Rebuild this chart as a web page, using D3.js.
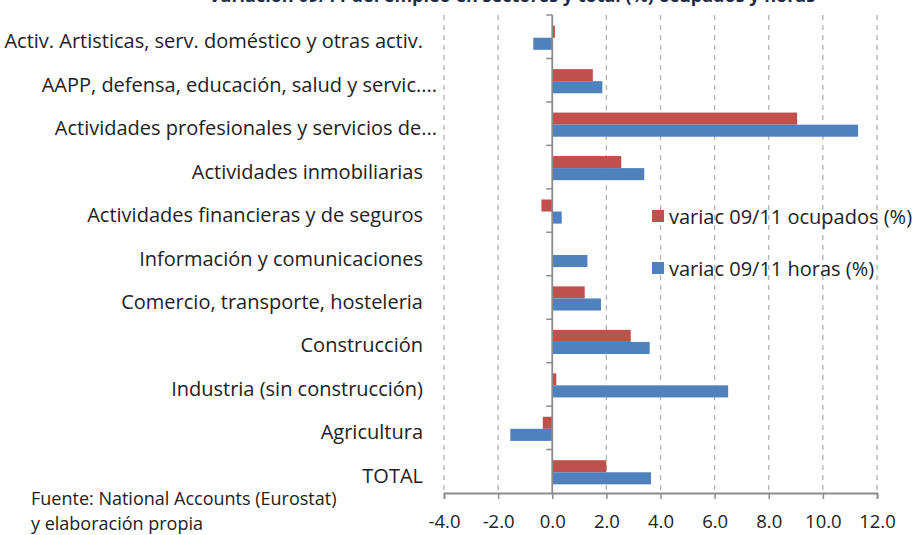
<!DOCTYPE html>
<html>
<head>
<meta charset="utf-8">
<script src="https://cdn.jsdelivr.net/npm/d3@7"></script>
<style>
  body { margin: 0; background: #fff; }
  svg { display: block; font-family: "Open Sans", sans-serif; }
</style>
</head>
<body>
<div id="chart"></div>
<script>
// categorias de arriba hacia abajo
const sectores = [
  "Activ. Artisticas, serv. doméstico y otras activ.",
  "AAPP, defensa, educación, salud y servic....",
  "Actividades profesionales y servicios de...",
  "Actividades inmobiliarias",
  "Actividades financieras y de seguros",
  "Información y comunicaciones",
  "Comercio, transporte, hosteleria",
  "Construcción",
  "Industria (sin construcción)",
  "Agricultura",
  "TOTAL"
];

// variacion 09/11 de ocupados (%)
const ocupados = [0.1, 1.5, 9.05, 2.55, -0.4, 0, 1.2, 2.9, 0.15, -0.35, 2.0];
// variacion 09/11 de horas (%)
const horas = [-0.7, 1.85, 11.3, 3.4, 0.35, 1.3, 1.8, 3.6, 6.5, -1.55, 3.65];

const series = ["variac 09/11 ocupados (%)", "variac 09/11 horas (%)"];
const colores = ["#C0504D", "#4F81BD"];
const ticksX = [-4, -2, 0, 2, 4, 6, 8, 10, 12];

const width = 914, height = 535;
const plot = { left: 444, right: 877, top: 15, bottom: 493 };

const svg = d3.select("#chart").append("svg")
  .attr("width", width)
  .attr("height", height);

const x = d3.scaleLinear().domain([-4, 12]).range([plot.left, plot.right]);
const y = d3.scaleBand().domain(sectores).range([plot.top, plot.bottom]);
const ySub = d3.scaleBand().domain([0, 1]).range([1, y.bandwidth() + 1]).paddingOuter(0.8);

// titulo (cortado arriba como en el original)
svg.append("text")
  .attr("x", 512)
  .attr("y", 2)
  .attr("text-anchor", "middle")
  .attr("font-weight", "bold")
  .attr("font-size", 18)
  .attr("fill", "#1f2a44")
  .text("Variación 09/11 del empleo en sectores y total (%) ocupados y horas");

// lineas de guia discontinuas
svg.append("g")
  .selectAll("line")
  .data(ticksX.filter(d => d !== 0))
  .join("line")
  .attr("x1", d => x(d)).attr("x2", d => x(d))
  .attr("y1", plot.top).attr("y2", plot.bottom)
  .attr("stroke", "#b3b3b3")
  .attr("stroke-width", 1.3)
  .attr("stroke-dasharray", "5,5");

// barras
const filas = sectores.map((s, i) => ({ sector: s, valores: [ocupados[i], horas[i]] }));

const grupos = svg.append("g")
  .selectAll("g")
  .data(filas)
  .join("g")
  .attr("transform", d => "translate(0," + y(d.sector) + ")");

grupos.selectAll("rect")
  .data(d => d.valores.map((v, k) => ({ v, k })))
  .join("rect")
  .attr("x", d => x(Math.min(0, d.v)))
  .attr("width", d => Math.abs(x(d.v) - x(0)))
  .attr("y", d => ySub(d.k))
  .attr("height", ySub.bandwidth())
  .attr("fill", d => colores[d.k]);

// eje vertical en el cero
const ejeY = svg.append("g");
ejeY.append("line")
  .attr("x1", x(0)).attr("x2", x(0))
  .attr("y1", plot.top).attr("y2", plot.bottom)
  .attr("stroke", "#8c8c8c").attr("stroke-width", 1.8);
ejeY.selectAll(".tk")
  .data(sectores)
  .join("line")
  .attr("class", "tk")
  .attr("x1", x(0) - 6).attr("x2", x(0))
  .attr("y1", d => y(d)).attr("y2", d => y(d))
  .attr("stroke", "#8c8c8c").attr("stroke-width", 1.5);

// eje horizontal (con guion normal como en Excel)
const ejeX = d3.axisBottom(x)
  .tickValues(ticksX)
  .tickSize(6)
  .tickFormat(d => d.toFixed(1));

const gx = svg.append("g")
  .attr("transform", "translate(0," + plot.bottom + ")")
  .call(ejeX);
gx.select(".domain").attr("stroke", "#8c8c8c").attr("stroke-width", 1.8);
gx.selectAll(".tick line").attr("stroke", "#8c8c8c").attr("stroke-width", 1.5);
gx.selectAll(".tick text")
  .attr("y", 22)
  .attr("font-family", "'Open Sans', sans-serif")
  .attr("font-size", 18.5)
  .attr("fill", "#222");

// etiquetas de categorias
svg.append("g")
  .selectAll("text")
  .data(sectores)
  .join("text")
  .attr("x", d => d.endsWith("...") ? 437 : 423)
  .attr("y", d => y(d) + y.bandwidth() / 2 + 4)
  .attr("text-anchor", "end")
  .attr("dominant-baseline", "central")
  .attr("font-size", 20)
  .attr("fill", "#222")
  .text(d => d);

// leyenda
const leyenda = svg.append("g")
  .selectAll("g")
  .data(series)
  .join("g")
  .attr("transform", (d, i) => "translate(652," + (210 + i * 52) + ")");
leyenda.append("rect")
  .attr("width", 12).attr("height", 12)
  .attr("fill", (d, i) => colores[i]);
leyenda.append("text")
  .attr("x", 17).attr("y", 6)
  .attr("dominant-baseline", "central")
  .attr("font-size", 20)
  .attr("fill", "#222")
  .text(d => d);

// fuente
svg.append("text")
  .attr("x", 31).attr("y", 498)
  .attr("dominant-baseline", "central")
  .attr("font-size", 18)
  .attr("fill", "#222")
  .text("Fuente: National Accounts (Eurostat)");
svg.append("text")
  .attr("x", 31).attr("y", 523)
  .attr("dominant-baseline", "central")
  .attr("font-size", 18)
  .attr("fill", "#222")
  .text("y elaboración propia");
</script>
</body>
</html>
